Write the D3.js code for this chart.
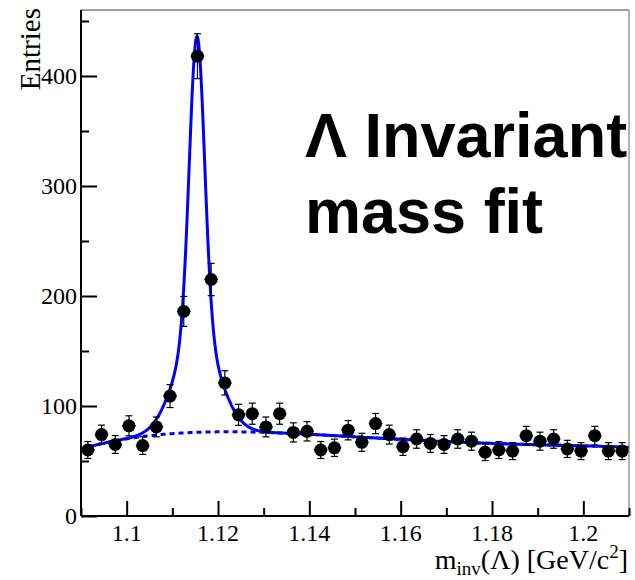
<!DOCTYPE html>
<html><head><meta charset="utf-8">
<script src="https://cdn.jsdelivr.net/npm/d3@7"></script>
<style>html,body{margin:0;padding:0;background:#fff;}</style>
</head><body>
<svg id="chart" width="635" height="580"></svg>
<script>
// ---- data ----
const binCenters = [1.0915,1.0945,1.0975,1.1005,1.1035,1.1065,1.1095,1.1125,1.1155,1.1185,
  1.1215,1.1245,1.1275,1.1305,1.1335,1.1365,1.1395,1.1425,1.1455,1.1485,
  1.1515,1.1545,1.1575,1.1605,1.1635,1.1665,1.1695,1.1725,1.1755,1.1785,
  1.1815,1.1845,1.1875,1.1905,1.1935,1.1965,1.1995,1.2025,1.2055,1.2085];
const counts = [60,74,65,82,64,81,109,186,418,215,
  121,92,93,81,93,76,77,60,62,78,
  67,84,74,63,70,66,65,70,68,58,
  60,59,73,68,70,61,59,73,59,59];
const errors = [7.7,8.6,8.1,9.1,8.0,9.0,10.4,13.6,20.4,14.7,
  11.0,9.6,9.6,9.0,9.6,8.7,8.8,7.7,7.9,8.8,
  8.2,9.2,8.6,7.9,8.4,8.1,8.1,8.4,8.2,7.6,
  7.7,7.7,8.5,8.2,8.4,7.8,7.7,8.5,7.7,7.7];
const binWidth = 0.003;
const xTicks = [1.1,1.12,1.14,1.16,1.18,1.2];
const xMinorTicks = [1.09,1.11,1.13,1.15,1.17,1.19,1.21];
const yTicks = [0,100,200,300,400];
const yMinorTicks = [50,150,250,350,450];
// fit parameters (double gaussian signal + quartic background in u=(x-1.15)/0.06)
const sigParams = {mean:1.1154, a1:269, s1:0.00165, a2:91, s2:0.00463};
const bkgCoeffs = [72,-14.25,-0.583,15,-9.667];

// ---- layout ----
const svg = d3.select("#chart");
const L=81, R=629, T=10, B=516;
const x = d3.scaleLinear().domain([1.09,1.21]).range([L,R]);
const y = d3.scaleLinear().domain([0,460]).range([B,T]);
const serif = "'Liberation Serif','Times New Roman',serif";

function bkg(v){const u=(v-1.15)/0.06;let s=0,p=1;for(const c of bkgCoeffs){s+=c*p;p*=u;}return s;}
function sig(v){const d=v-sigParams.mean;return sigParams.a1*Math.exp(-d*d/(2*sigParams.s1*sigParams.s1))+sigParams.a2*Math.exp(-d*d/(2*sigParams.s2*sigParams.s2));}
const xs = d3.range(0,1201).map(i=>1.09+i*0.0001);

svg.append("clipPath").attr("id","clip").append("rect").attr("x",L).attr("y",T).attr("width",R-L).attr("height",B-T);
const g = svg.append("g").attr("clip-path","url(#clip)");

// background dashed
g.append("path").datum(xs).attr("fill","none").attr("stroke","#0000ff").attr("stroke-width",3)
 .attr("stroke-dasharray","5,4")
 .attr("d",d3.line().x(d=>x(d)).y(d=>y(bkg(d))));
// total fit
g.append("path").datum(xs).attr("fill","none").attr("stroke","#0000ff").attr("stroke-width",3)
 .attr("d",d3.line().x(d=>x(d)).y(d=>y(bkg(d)+sig(d))));

// data points
const pts = binCenters.map((c,i)=>({c,v:counts[i],e:errors[i]}));
const pg = svg.append("g");
pg.selectAll("line.ev").data(pts).join("line").attr("stroke","#000").attr("stroke-width",1.2)
 .attr("x1",d=>x(d.c)).attr("x2",d=>x(d.c)).attr("y1",d=>y(d.v-d.e)).attr("y2",d=>y(d.v+d.e));
pg.selectAll("line.eh").data(pts).join("line").attr("stroke","#000").attr("stroke-width",1.2)
 .attr("x1",d=>x(d.c-binWidth/2)).attr("x2",d=>x(d.c+binWidth/2)).attr("y1",d=>y(d.v)).attr("y2",d=>y(d.v));
pg.selectAll("line.ct").data(pts).join("line").attr("stroke","#000").attr("stroke-width",1.2)
 .attr("x1",d=>x(d.c)-3.5).attr("x2",d=>x(d.c)+3.5).attr("y1",d=>y(d.v+d.e)).attr("y2",d=>y(d.v+d.e));
pg.selectAll("line.cb").data(pts).join("line").attr("stroke","#000").attr("stroke-width",1.2)
 .attr("x1",d=>x(d.c)-3.5).attr("x2",d=>x(d.c)+3.5).attr("y1",d=>y(d.v-d.e)).attr("y2",d=>y(d.v-d.e));
pg.selectAll("circle").data(pts).join("circle").attr("fill","#000")
 .attr("cx",d=>x(d.c)).attr("cy",d=>y(d.v)).attr("r",6.5);

// frame
svg.append("line").attr("x1",L).attr("x2",R).attr("y1",T).attr("y2",T).attr("stroke","#444").attr("stroke-width",1);
svg.append("line").attr("x1",R).attr("x2",R).attr("y1",T).attr("y2",B).attr("stroke","#666").attr("stroke-width",1);

// axes
const xAxis = d3.axisTop(x).tickValues(xTicks).tickSize(15).tickFormat("");
const gx = svg.append("g").attr("transform",`translate(0,${B})`).call(xAxis);
const xMinor = d3.axisTop(x).tickValues(xMinorTicks).tickSize(8).tickFormat("");
const gxm = svg.append("g").attr("transform",`translate(0,${B})`).call(xMinor);
const yAxis = d3.axisRight(y).tickValues(yTicks).tickSize(16).tickFormat("");
const gy = svg.append("g").attr("transform",`translate(${L},0)`).call(yAxis);
const yMinor = d3.axisRight(y).tickValues(yMinorTicks).tickSize(8).tickFormat("");
const gym = svg.append("g").attr("transform",`translate(${L},0)`).call(yMinor);
[gx,gxm,gy,gym].forEach(a=>{a.select(".domain").attr("stroke","#000").attr("stroke-width",2);a.selectAll(".tick line").attr("stroke","#000").attr("stroke-width",2);});
gx.select(".domain").attr("d",`M${L},0H${R}`);
gxm.select(".domain").remove();
gy.select(".domain").attr("d",`M0,${B}V${T}`);
gym.select(".domain").remove();

// tick labels
svg.append("g").selectAll("text").data(xTicks).join("text")
 .attr("x",d=>x(d)).attr("y",541).attr("text-anchor","middle")
 .style("font-family",serif).style("font-size","24px").attr("fill","#000")
 .text(d=>d3.format("")(d));
svg.append("g").selectAll("text").data(yTicks).join("text")
 .attr("x",77).attr("y",d=>y(d)+8).attr("text-anchor","end")
 .style("font-family",serif).style("font-size","24px").attr("fill","#000")
 .text(d=>d);

// axis titles
svg.append("text").attr("transform","translate(40,8) rotate(-90)").attr("text-anchor","end")
 .style("font-family",serif).style("font-size","29px").attr("fill","#000").text("Entries");
const xt = svg.append("text").attr("x",628).attr("y",569).attr("text-anchor","end")
 .style("font-family",serif).style("font-size","28px").attr("fill","#000");
xt.append("tspan").text("m");
xt.append("tspan").attr("dy",6).style("font-size","19px").text("inv");
xt.append("tspan").attr("dy",-6).text("(Λ) [GeV/c");
xt.append("tspan").attr("dy",-11).style("font-size","19px").text("2");
xt.append("tspan").attr("dy",11).text("]");

// annotation
const ann = svg.append("text").style("font-family","'Liberation Sans',Arial,sans-serif")
 .style("font-weight","bold").style("font-size","63px").attr("fill","#000");
ann.append("tspan").attr("x",305).attr("y",157).text("Λ Invariant");
ann.append("tspan").attr("x",305).attr("y",233).text("mass fit");
</script>
</body></html>
